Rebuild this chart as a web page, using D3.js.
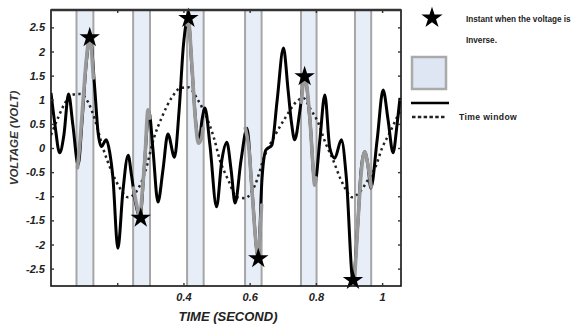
<!DOCTYPE html>
<html>
<head>
<meta charset="utf-8">
<script src="https://cdn.jsdelivr.net/npm/d3@7"></script>
<style>
  html, body { margin: 0; padding: 0; background: #fff; }
  svg { display: block; }
  text { font-family: "Liberation Sans", Arial, sans-serif; }
</style>
</head>
<body>
<svg id="chart" width="580" height="327"></svg>
<script>
// Measured voltage signal [time (s), voltage (V)]
const signalPts = [
  [0,1.14],[0.012,0.48],[0.026,-0.10],[0.039,0.27],[0.053,1.12],[0.066,0.48],[0.082,-0.35],
  [0.094,0.58],[0.106,1.72],[0.118,2.30],[0.132,1.24],[0.142,0.33],[0.152,0.03],[0.167,0.17],
  [0.177,-0.08],[0.187,-0.62],[0.202,-2.08],[0.217,-0.91],[0.233,-0.15],[0.243,-0.56],
  [0.254,-1.08],[0.269,-1.43],[0.281,-0.46],[0.296,0.75],[0.308,-0.04],[0.323,-1.12],
  [0.338,-0.46],[0.353,0.29],[0.373,-0.19],[0.387,0.79],[0.400,2.13],[0.414,2.70],[0.426,1.62],
  [0.438,0.48],[0.447,0.12],[0.456,0.58],[0.465,0.83],[0.480,0.06],[0.500,-1.22],[0.516,-0.25],
  [0.531,0.12],[0.544,-0.46],[0.556,-1.14],[0.574,-0.25],[0.592,0.41],[0.607,-0.87],
  [0.626,-2.28],[0.637,-0.66],[0.649,-0.04],[0.667,0.06],[0.683,0.99],[0.702,2.07],[0.716,1.20],
  [0.726,0.54],[0.736,0.17],[0.752,0.79],[0.766,1.47],[0.782,0.58],[0.797,-0.73],[0.812,0.17],
  [0.827,1.10],[0.842,0],[0.857,-0.21],[0.877,0.17],[0.892,-0.62],[0.912,-2.74],[0.927,-1.53],
  [0.936,-0.50],[0.947,-0.08],[0.957,-0.35],[0.966,-0.83],[0.985,0.17],[1.003,1.20],
  [1.018,0.58],[1.033,-0.10],[1.045,0.48],[1.054,1.04]
];

// Slow reference wave (dotted)
const referencePts = [
  [0,0.27],[0.021,0.62],[0.042,0.93],[0.063,1.10],[0.088,1.12],[0.112,0.95],[0.133,0.58],
  [0.157,0],[0.184,-0.50],[0.208,-0.83],[0.233,-1.02],[0.257,-0.91],[0.284,-0.50],[0.311,0.21],
  [0.335,0.64],[0.366,1.06],[0.390,1.24],[0.414,1.26],[0.444,0.99],[0.471,0.62],[0.492,0.21],
  [0.510,-0.25],[0.535,-0.66],[0.562,-1.02],[0.586,-1.04],[0.616,-0.77],[0.646,-0.15],
  [0.677,0.27],[0.707,0.62],[0.740,0.95],[0.761,1.04],[0.785,0.79],[0.806,0.54],[0.828,0.12],
  [0.852,-0.25],[0.873,-0.62],[0.891,-0.87],[0.909,-1.02],[0.933,-0.91],[0.957,-0.66],
  [0.979,-0.41],[1.000,0],[1.024,0.33],[1.048,0.68],[1.057,0.80]
];

// Signal inside each time window (grey)
const windowSegments = [
  [[0.080,-0.41],[0.088,0.17],[0.097,0.99],[0.106,1.78],[0.117,2.30],[0.124,1.87],[0.128,1.45]],
  [[0.249,-0.83],[0.260,-1.22],[0.268,-1.43],[0.275,-0.97],[0.284,-0.15],[0.293,0.79],[0.299,0.62]],
  [[0.411,2.55],[0.414,2.70],[0.425,1.78],[0.435,0.68],[0.445,0.10],[0.455,0.21],[0.459,0.41]],
  [[0.587,0.41],[0.598,-0.04],[0.607,-0.87],[0.616,-1.74],[0.626,-2.28],[0.631,-1.80],[0.636,-1.18]],
  [[0.756,0.95],[0.766,1.47],[0.781,0.68],[0.791,-0.35],[0.796,-0.77],[0.801,-0.62]],
  [[0.917,-2.69],[0.927,-1.53],[0.937,-0.50],[0.947,-0.08],[0.957,-0.35],[0.967,-0.81]]
];

// Time windows [start, end] in seconds
const windows = [
  [0.077,0.128],[0.248,0.299],[0.411,0.461],[0.586,0.636],[0.755,0.802],[0.918,0.967]
];

// Instants when the voltage is inverse
const inverseInstants = [
  [0.117,2.29],[0.271,-1.45],[0.415,2.69],[0.626,-2.29],[0.766,1.48],[0.912,-2.74]
];

const xTicks = [0.2, 0.4, 0.6, 0.8, 1];
const xTickLabels = ["", "0.4", "0.6", "0.8", "1"];
const yTicks = [2.5, 2, 1.5, 1, 0.5, 0, -0.5, -1, -1.5, -2, -2.5];

const svg = d3.select("#chart");
const L = 51, R = 401, T = 10, B = 286;

const x = d3.scaleLinear().domain([0, 1.057]).range([L, R]);
const y = d3.scaleLinear().domain([-2.86, 2.86]).range([B, T]);

svg.append("defs").append("clipPath").attr("id", "plotClip")
  .append("rect").attr("x", L).attr("y", T).attr("width", R - L).attr("height", B - T);

const plot = svg.append("g").attr("clip-path", "url(#plotClip)");

// time windows
plot.selectAll("rect.win").data(windows).enter().append("rect")
  .attr("class", "win")
  .attr("x", d => x(d[0]))
  .attr("y", T - 2)
  .attr("width", d => x(d[1]) - x(d[0]))
  .attr("height", B - T + 4)
  .attr("fill", "#e8eef7")
  .attr("stroke", "#a6a6a6")
  .attr("stroke-width", 2);

const line = d3.line().x(d => x(d[0])).y(d => y(d[1])).curve(d3.curveMonotoneX);

plot.append("path").datum(referencePts)
  .attr("d", line).attr("fill", "none")
  .attr("stroke", "#222").attr("stroke-width", 2.5)
  .attr("stroke-dasharray", "2.4,3.4");

plot.append("path").datum(signalPts)
  .attr("d", line).attr("fill", "none")
  .attr("stroke", "#000").attr("stroke-width", 3)
  .attr("stroke-linejoin", "round");

plot.selectAll("path.seg").data(windowSegments).enter().append("path")
  .attr("class", "seg")
  .attr("d", line).attr("fill", "none")
  .attr("stroke", "#999").attr("stroke-width", 3.6)
  .attr("stroke-linecap", "round");

const star = d3.symbol().type(d3.symbolStar).size(130);
svg.selectAll("path.star").data(inverseInstants).enter().append("path")
  .attr("class", "star")
  .attr("d", star)
  .attr("transform", d => `translate(${x(d[0])},${y(d[1])})`)
  .attr("fill", "#000");

// frame
svg.append("rect").attr("x", L).attr("y", T).attr("width", R - L).attr("height", B - T)
  .attr("fill", "none").attr("stroke", "#111").attr("stroke-width", 1.6);
svg.append("line").attr("x1", L).attr("x2", R).attr("y1", T).attr("y2", T)
  .attr("stroke", "#333").attr("stroke-width", 2.4);

// axes
const yAxis = d3.axisLeft(y).tickValues(yTicks).tickSize(-3).tickPadding(6)
  .tickFormat(d => String(d));
const gy = svg.append("g").attr("transform", `translate(${L},0)`).call(yAxis);
const yAxisR = d3.axisRight(y).tickValues(yTicks).tickSize(-3).tickFormat("");
const gyr = svg.append("g").attr("transform", `translate(${R},0)`).call(yAxisR);

const xAxis = d3.axisBottom(x).tickValues(xTicks).tickSize(-3).tickPadding(7)
  .tickFormat((d, i) => xTickLabels[i]);
const gx = svg.append("g").attr("transform", `translate(0,${B})`).call(xAxis);
const xAxisT = d3.axisTop(x).tickValues(xTicks).tickSize(-3).tickFormat("");
const gxt = svg.append("g").attr("transform", `translate(0,${T})`).call(xAxisT);

[gy, gyr, gx, gxt].forEach(g => {
  g.select(".domain").remove();
  g.selectAll(".tick line").attr("stroke", "#333").attr("stroke-width", 1.4);
  g.selectAll(".tick text").attr("font-size", 11).attr("font-style", "italic")
    .attr("fill", "#222").attr("font-weight", "bold");
});

svg.append("text").attr("x", 228).attr("y", 321).attr("text-anchor", "middle")
  .attr("font-size", 13).attr("font-style", "italic").attr("font-weight", "bold")
  .attr("fill", "#222").text("TIME (SECOND)");

svg.append("text").attr("transform", "translate(18,138) rotate(-90)")
  .attr("text-anchor", "middle").attr("font-size", 11.5).attr("font-style", "italic")
  .attr("font-weight", "bold").attr("fill", "#333").text("VOLTAGE (VOLT)");

// legend
const lg = svg.append("g");
lg.append("path").attr("d", d3.symbol().type(d3.symbolStar).size(140))
  .attr("transform", "translate(432,18)").attr("fill", "#000");
lg.append("text").attr("x", 466).attr("y", 22).attr("font-size", 8.2).attr("fill", "#222")
  .attr("font-weight", "bold")
  .text("Instant when the voltage is");
lg.append("text").attr("x", 466).attr("y", 43).attr("font-size", 8.2).attr("fill", "#222")
  .attr("font-weight", "bold")
  .text("Inverse.");
lg.append("rect").attr("x", 412).attr("y", 57).attr("width", 34).attr("height", 32)
  .attr("fill", "#dde6f2").attr("stroke", "#aaa").attr("stroke-width", 2.5);
lg.append("line").attr("x1", 411).attr("x2", 449).attr("y1", 103).attr("y2", 103)
  .attr("stroke", "#000").attr("stroke-width", 2.6);
lg.append("line").attr("x1", 412).attr("x2", 446).attr("y1", 117).attr("y2", 117)
  .attr("stroke", "#222").attr("stroke-width", 2.4).attr("stroke-dasharray", "3.5,2.3");
lg.append("text").attr("x", 459).attr("y", 120).attr("font-size", 8.6).attr("fill", "#222")
  .attr("font-weight", "bold").attr("letter-spacing", 0.4)
  .text("Time window");
</script>
</body>
</html>
